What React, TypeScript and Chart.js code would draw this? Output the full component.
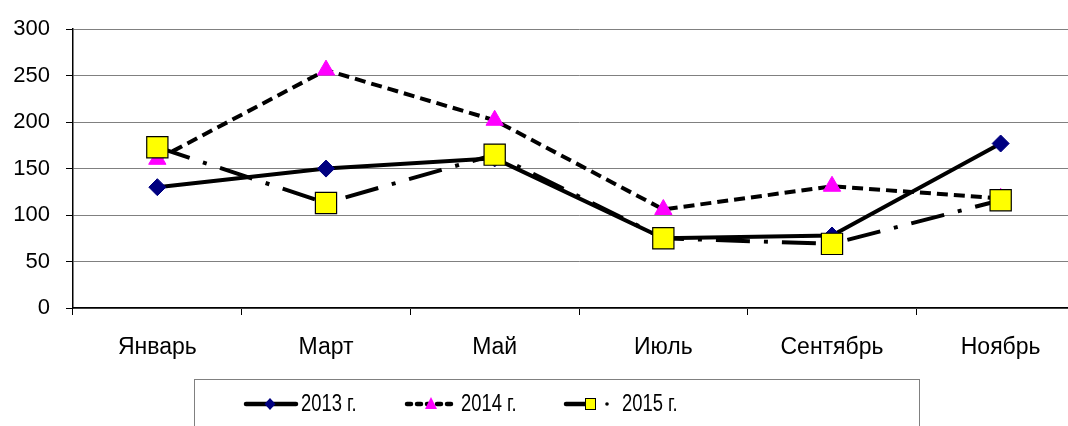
import React, { useEffect, useRef } from "react";
import { Chart, registerables } from "chart.js";

Chart.register(...registerables);

const categories = ["Январь", "Март", "Май", "Июль", "Сентябрь", "Ноябрь"];
const seriesNames = ["2013 г.", "2014 г.", "2015 г."];
const values2013 = [130, 150, 161, 75, 78, 177];
const values2014 = [160, 256, 202, 106, 131, 118];
const values2015 = [173, 113, 165, 75, 69, 116];
const yTicks = [0, 50, 100, 150, 200, 250, 300];

const CANVAS_W = 1085;
const CANVAS_H = 440;

const legendPlugin = {
  id: "boxLegend",
  afterDraw(chart: any) {
    const ctx = chart.ctx as CanvasRenderingContext2D;
    ctx.save();
    ctx.strokeStyle = "#808080";
    ctx.lineWidth = 1;
    ctx.strokeRect(194.5, 379.5, 725, 80);
    const cy = 404;
    ctx.lineCap = "round";
    // item 1
    ctx.strokeStyle = "#000";
    ctx.lineWidth = 4.5;
    ctx.setLineDash([]);
    ctx.beginPath();
    ctx.moveTo(246, cy);
    ctx.lineTo(296, cy);
    ctx.stroke();
    ctx.fillStyle = "#000080";
    ctx.beginPath();
    ctx.moveTo(270, cy - 6);
    ctx.lineTo(275.5, cy);
    ctx.lineTo(270, cy + 6);
    ctx.lineTo(264.5, cy);
    ctx.closePath();
    ctx.fill();
    // item 2
    ctx.setLineDash([4, 6]);
    ctx.beginPath();
    ctx.moveTo(407, cy);
    ctx.lineTo(457, cy);
    ctx.stroke();
    ctx.setLineDash([]);
    ctx.fillStyle = "#ff00ff";
    ctx.beginPath();
    ctx.moveTo(431, cy - 7);
    ctx.lineTo(437, cy + 5);
    ctx.lineTo(425, cy + 5);
    ctx.closePath();
    ctx.fill();
    // item 3
    ctx.beginPath();
    ctx.moveTo(566, cy);
    ctx.lineTo(586, cy);
    ctx.stroke();
    ctx.fillStyle = "#ffff00";
    ctx.fillRect(585, cy - 6, 11, 12);
    ctx.lineWidth = 1;
    ctx.strokeRect(585.5, cy - 5.5, 10, 11);
    ctx.fillStyle = "#000";
    ctx.beginPath();
    ctx.arc(607, cy, 1.8, 0, Math.PI * 2);
    ctx.fill();
    // texts (condensed like the original narrow font)
    ctx.font = "23px 'Liberation Sans', Arial, sans-serif";
    ctx.textBaseline = "middle";
    ctx.textAlign = "left";
    ctx.fillStyle = "#000";
    const xs = [301, 461, 622];
    xs.forEach((x, i) => {
      ctx.save();
      ctx.translate(x, cy + 1);
      ctx.scale(0.8, 1);
      ctx.fillText(seriesNames[i], 0, 0);
      ctx.restore();
    });
    ctx.restore();
  },
};

export default function App() {
  const ref = useRef<HTMLCanvasElement | null>(null);
  useEffect(() => {
    if (!ref.current) return;
    const chart = new Chart(ref.current, {
      type: "line",
      data: {
        labels: categories,
        datasets: [
          {
            label: seriesNames[0],
            data: values2013,
            borderColor: "#000000",
            borderWidth: 4,
            pointStyle: "rectRot",
            pointRadius: 8.5,
            pointBackgroundColor: "#000080",
            pointBorderColor: "#000080",
            pointBorderWidth: 1,
            tension: 0,
            order: 3,
          },
          {
            label: seriesNames[1],
            data: values2014,
            borderColor: "#000000",
            borderWidth: 4,
            borderDash: [11, 6],
            pointStyle: "triangle",
            pointRadius: 10,
            pointBackgroundColor: "#ff00ff",
            pointBorderColor: "#ff00ff",
            pointBorderWidth: 1,
            tension: 0,
            order: 2,
          },
          {
            label: seriesNames[2],
            data: values2015,
            borderColor: "#000000",
            borderWidth: 4,
            borderDash: [34, 14, 4, 14],
            pointStyle: "rect",
            pointRadius: 15,
            pointBackgroundColor: "#ffff00",
            pointBorderColor: "#000000",
            pointBorderWidth: 1.2,
            tension: 0,
            order: 1,
          },
        ],
      },
      options: {
        responsive: false,
        animation: false,
        devicePixelRatio: 1,
        layout: { autoPadding: false, padding: { top: 25, right: 0, left: 0, bottom: 0 } },
        plugins: {
          legend: { display: false },
          tooltip: { enabled: false },
        },
        scales: {
          x: {
            type: "category",
            offset: true,
            grid: {
              offset: true,
              drawOnChartArea: false,
              drawTicks: true,
              tickLength: 7,
              color: "#000",
              lineWidth: 1,
            },
            border: { color: "#000", width: 1.5 },
            ticks: {
              color: "#000",
              padding: 19,
              font: { family: "'Liberation Sans', Arial, sans-serif", size: 23 },
              maxRotation: 0,
              autoSkip: false,
            },
            afterFit(scale: any) {
              scale.height = CANVAS_H - 308;
            },
          },
          y: {
            min: 0,
            max: 300,
            afterBuildTicks(scale: any) {
              scale.ticks = yTicks.map((v) => ({ value: v }));
            },
            grid: {
              color: "#808080",
              lineWidth: 1,
              tickLength: 7,
              tickColor: "#000",
            },
            border: { color: "#000", width: 1.5 },
            ticks: {
              color: "#000",
              padding: 16,
              font: { family: "'Liberation Sans', Arial, sans-serif", size: 22 },
            },
            afterFit(scale: any) {
              scale.width = 73;
            },
          },
        },
      },
      plugins: [legendPlugin],
    });
    return () => chart.destroy();
  }, []);
  return (
    <div
      style={{
        position: "fixed",
        left: 0,
        top: 0,
        width: 1068,
        height: 426,
        overflow: "hidden",
        background: "#fff",
      }}
    >
      <canvas ref={ref} width={CANVAS_W} height={CANVAS_H} style={{ display: "block" }} />
    </div>
  );
}
